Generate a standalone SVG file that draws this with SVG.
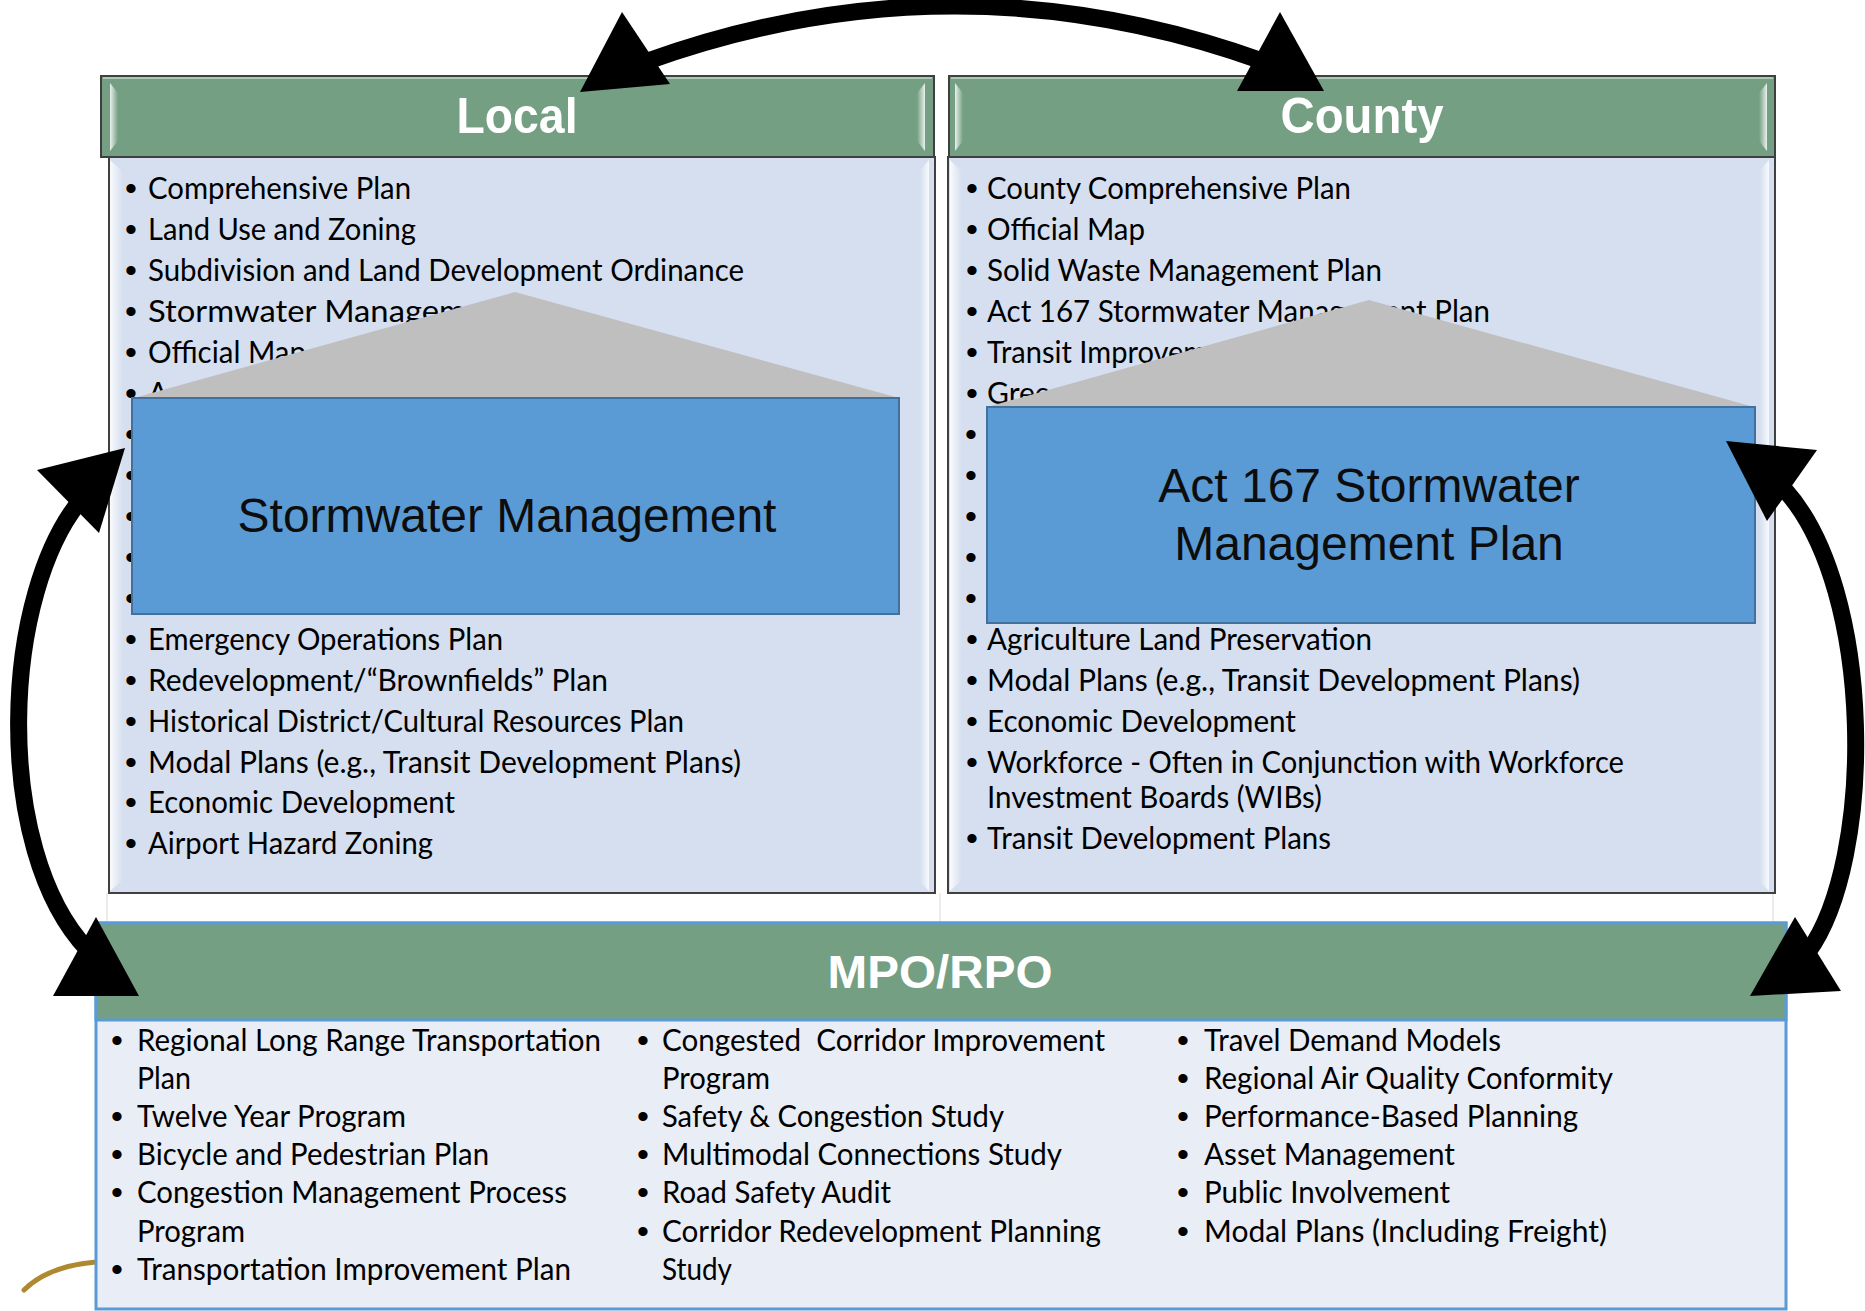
<svg xmlns="http://www.w3.org/2000/svg" width="1865" height="1311" viewBox="0 0 1865 1311">
<defs>
<style>
.hdr{fill:#749F83;stroke:#3F3F3F;stroke-width:2}
.body{fill:#D5DFEF;stroke:#404040;stroke-width:2}
.htitle{font-family:"Liberation Sans",Arial,sans-serif;font-weight:bold;font-size:50px;fill:#FFFFFF;text-anchor:middle}
.li{font-family:Lato,"Liberation Sans",sans-serif;font-size:30px;fill:#000000}
.bu{font-family:"Liberation Sans",Arial,sans-serif;font-size:34px;fill:#000000;text-anchor:middle}
.tri{fill:#BFBFBF}
.blue{fill:#5B9BD5;stroke:#41719C;stroke-width:2}
.btxt{font-family:"Liberation Sans",Arial,sans-serif;font-size:48px;fill:#0D0D0D;text-anchor:middle}
.arc{fill:none;stroke:#000000;stroke-width:17}
.head{fill:#000000}
.faint{stroke:#D9D9D9;stroke-width:1}
</style>
<linearGradient id="hlL" x1="0" y1="0" x2="1" y2="0">
<stop offset="0" stop-color="#FFFFFF" stop-opacity="0.85"/>
<stop offset="1" stop-color="#FFFFFF" stop-opacity="0"/>
</linearGradient>
<linearGradient id="hlR" x1="1" y1="0" x2="0" y2="0">
<stop offset="0" stop-color="#FFFFFF" stop-opacity="0.85"/>
<stop offset="1" stop-color="#FFFFFF" stop-opacity="0"/>
</linearGradient>
</defs>
<rect x="0" y="0" width="1865" height="1311" fill="#FFFFFF"/>
<line class="faint" x1="107" y1="893" x2="107" y2="923"/>
<line class="faint" x1="940" y1="893" x2="940" y2="923"/>
<line class="faint" x1="1773" y1="893" x2="1773" y2="923"/>
<path d="M24,1290 Q48,1266 96,1262" fill="none" stroke="#B08830" stroke-width="5" stroke-linecap="round"/>

<g id="local">
<rect class="body" x="109" y="157" width="826" height="736"/>
<polygon points="110,160 123,172 123,880 110,891" fill="url(#hlL)"/>
<polygon points="929,160 920,170 920,882 929,891" fill="url(#hlR)"/>
<rect class="hdr" x="101" y="76" width="833" height="81"/>
<line x1="103" y1="78" x2="932" y2="78" stroke="#A9CBB4" stroke-width="2"/>
<polygon points="110,83 118,93 118,141 110,151" fill="url(#hlL)"/>
<polygon points="925,83 917,93 917,141 925,151" fill="url(#hlR)"/>
<text class="htitle" x="517" y="133" textLength="121" lengthAdjust="spacingAndGlyphs">Local</text>
<g class="bu">
<text x="131" y="200">•</text><text x="131" y="241">•</text><text x="131" y="282">•</text><text x="131" y="323">•</text><text x="131" y="364">•</text><text x="131" y="405">•</text><text x="131" y="446">•</text><text x="131" y="487">•</text><text x="131" y="528">•</text><text x="131" y="569">•</text><text x="131" y="610">•</text><text x="131" y="651">•</text><text x="131" y="692">•</text><text x="131" y="733">•</text><text x="131" y="774">•</text><text x="131" y="814">•</text><text x="131" y="855">•</text>
</g>
<g class="li">
<text x="148" y="199" textLength="263" lengthAdjust="spacingAndGlyphs">Comprehensive Plan</text>
<text x="148" y="240" textLength="268" lengthAdjust="spacingAndGlyphs">Land Use and Zoning</text>
<text x="148" y="281" textLength="596" lengthAdjust="spacingAndGlyphs">Subdivision and Land Development Ordinance</text>
<text x="148" y="322" textLength="365" lengthAdjust="spacingAndGlyphs">Stormwater Management</text>
<text x="148" y="363" textLength="158" lengthAdjust="spacingAndGlyphs">Official Map</text>
<text x="148" y="404">A</text>
<text x="148" y="650" textLength="355" lengthAdjust="spacingAndGlyphs">Emergency Operations Plan</text>
<text x="148" y="691" textLength="460" lengthAdjust="spacingAndGlyphs">Redevelopment/“Brownfields” Plan</text>
<text x="148" y="732" textLength="536" lengthAdjust="spacingAndGlyphs">Historical District/Cultural Resources Plan</text>
<text x="148" y="773" textLength="593" lengthAdjust="spacingAndGlyphs">Modal Plans (e.g., Transit Development Plans)</text>
<text x="148" y="813" textLength="307" lengthAdjust="spacingAndGlyphs">Economic Development</text>
<text x="148" y="854" textLength="285" lengthAdjust="spacingAndGlyphs">Airport Hazard Zoning</text>
</g>
</g>

<g id="local-callout">
<polygon class="tri" points="515,292 134,398 899,398"/>
<rect class="blue" x="132" y="398" width="767" height="216"/>
<text class="btxt" x="507" y="532">Stormwater Management</text>
</g>

<g id="county">
<rect class="body" x="948" y="157" width="827" height="736"/>
<polygon points="950,160 962,172 962,880 950,891" fill="url(#hlL)"/>
<polygon points="1769,160 1760,170 1760,882 1769,891" fill="url(#hlR)"/>
<rect class="hdr" x="949" y="76" width="826" height="81"/>
<line x1="951" y1="78" x2="1773" y2="78" stroke="#A9CBB4" stroke-width="2"/>
<polygon points="955,83 963,93 963,141 955,151" fill="url(#hlL)"/>
<polygon points="1767,83 1759,93 1759,141 1767,151" fill="url(#hlR)"/>
<text class="htitle" x="1362" y="133" textLength="163" lengthAdjust="spacingAndGlyphs">County</text>
<g class="bu">
<text x="972" y="200">•</text><text x="972" y="241">•</text><text x="972" y="282">•</text><text x="972" y="323">•</text><text x="972" y="364">•</text><text x="972" y="405">•</text><text x="971" y="446">•</text><text x="971" y="487">•</text><text x="971" y="528">•</text><text x="971" y="569">•</text><text x="971" y="610">•</text><text x="972" y="651">•</text><text x="972" y="692">•</text><text x="972" y="733">•</text><text x="972" y="774">•</text><text x="972" y="850">•</text>
</g>
<g class="li">
<text x="987" y="199" textLength="364" lengthAdjust="spacingAndGlyphs">County Comprehensive Plan</text>
<text x="987" y="240" textLength="158" lengthAdjust="spacingAndGlyphs">Official Map</text>
<text x="987" y="281" textLength="395" lengthAdjust="spacingAndGlyphs">Solid Waste Management Plan</text>
<text x="987" y="322" textLength="503" lengthAdjust="spacingAndGlyphs">Act 167 Stormwater Management Plan</text>
<text x="987" y="363" textLength="262" lengthAdjust="spacingAndGlyphs">Transit Improvement</text>
<text x="987" y="404">Gree</text>
<text x="987" y="650" textLength="385" lengthAdjust="spacingAndGlyphs">Agriculture Land Preservation</text>
<text x="987" y="691" textLength="593" lengthAdjust="spacingAndGlyphs">Modal Plans (e.g., Transit Development Plans)</text>
<text x="987" y="732" textLength="309" lengthAdjust="spacingAndGlyphs">Economic Development</text>
<text x="987" y="773" textLength="637" lengthAdjust="spacingAndGlyphs">Workforce - Often in Conjunction with Workforce</text>
<text x="987" y="808" textLength="335" lengthAdjust="spacingAndGlyphs">Investment Boards (WIBs)</text>
<text x="987" y="849" textLength="344" lengthAdjust="spacingAndGlyphs">Transit Development Plans</text>
</g>
</g>

<g id="county-callout">
<polygon class="tri" points="1369,300 987,407 1754,407"/>
<rect class="blue" x="987" y="407" width="768" height="216"/>
<text class="btxt" x="1369" y="502">Act 167 Stormwater</text>
<text class="btxt" x="1369" y="560">Management Plan</text>
</g>

<g id="mpo">
<rect x="96" y="923" width="1690" height="386" fill="#E9EDF6" stroke="#5B9BD5" stroke-width="3"/>
<rect x="96" y="923" width="1690" height="97" fill="#749F83" stroke="#5B9BD5" stroke-width="3"/>
<text class="htitle" x="940" y="988" style="font-size:47px" textLength="225" lengthAdjust="spacingAndGlyphs">MPO/RPO</text>
<g class="bu">
<text x="117" y="1052">•</text><text x="117" y="1128">•</text><text x="117" y="1166">•</text><text x="117" y="1204">•</text><text x="117" y="1281">•</text>
<text x="643" y="1052">•</text><text x="643" y="1128">•</text><text x="643" y="1166">•</text><text x="643" y="1204">•</text><text x="643" y="1243">•</text>
<text x="1183" y="1052">•</text><text x="1183" y="1090">•</text><text x="1183" y="1128">•</text><text x="1183" y="1166">•</text><text x="1183" y="1204">•</text><text x="1183" y="1243">•</text>
</g>
<g class="li">
<text x="137" y="1051" textLength="464" lengthAdjust="spacingAndGlyphs">Regional Long Range Transportation</text>
<text x="137" y="1089" textLength="54" lengthAdjust="spacingAndGlyphs">Plan</text>
<text x="137" y="1127" textLength="269" lengthAdjust="spacingAndGlyphs">Twelve Year Program</text>
<text x="137" y="1165" textLength="352" lengthAdjust="spacingAndGlyphs">Bicycle and Pedestrian Plan</text>
<text x="137" y="1203" textLength="430" lengthAdjust="spacingAndGlyphs">Congestion Management Process</text>
<text x="137" y="1242" textLength="108" lengthAdjust="spacingAndGlyphs">Program</text>
<text x="137" y="1280" textLength="434" lengthAdjust="spacingAndGlyphs">Transportation Improvement Plan</text>
<text x="662" y="1051" textLength="443" lengthAdjust="spacingAndGlyphs" xml:space="preserve">Congested  Corridor Improvement</text>
<text x="662" y="1089" textLength="108" lengthAdjust="spacingAndGlyphs">Program</text>
<text x="662" y="1127" textLength="342" lengthAdjust="spacingAndGlyphs">Safety &amp; Congestion Study</text>
<text x="662" y="1165" textLength="400" lengthAdjust="spacingAndGlyphs">Multimodal Connections Study</text>
<text x="662" y="1203" textLength="229" lengthAdjust="spacingAndGlyphs">Road Safety Audit</text>
<text x="662" y="1242" textLength="439" lengthAdjust="spacingAndGlyphs">Corridor Redevelopment Planning</text>
<text x="662" y="1280" textLength="70" lengthAdjust="spacingAndGlyphs">Study</text>
<text x="1204" y="1051" textLength="297" lengthAdjust="spacingAndGlyphs">Travel Demand Models</text>
<text x="1204" y="1089" textLength="409" lengthAdjust="spacingAndGlyphs">Regional Air Quality Conformity</text>
<text x="1204" y="1127" textLength="374" lengthAdjust="spacingAndGlyphs">Performance-Based Planning</text>
<text x="1204" y="1165" textLength="251" lengthAdjust="spacingAndGlyphs">Asset Management</text>
<text x="1204" y="1203" textLength="246" lengthAdjust="spacingAndGlyphs">Public Involvement</text>
<text x="1204" y="1242" textLength="403" lengthAdjust="spacingAndGlyphs">Modal Plans (Including Freight)</text>
</g>
</g>

<g id="connectors">
<path class="arc" d="M645,62 Q955,-50 1265,62"/>
<polygon class="head" points="622,12 580,92 670,84"/>
<polygon class="head" points="1280,12 1237,91 1324,91"/>
<path class="arc" d="M85,495 C0,590 -8,850 88,950"/>
<polygon class="head" points="37,470 125,448 99,533"/>
<polygon class="head" points="96,917 53,996 139,996"/>
<path class="arc" d="M1785,490 C1875,590 1875,860 1808,952"/>
<polygon class="head" points="1726,441 1817,450 1767,521"/>
<polygon class="head" points="1795,917 1750,996 1841,991"/>
</g>
</svg>
